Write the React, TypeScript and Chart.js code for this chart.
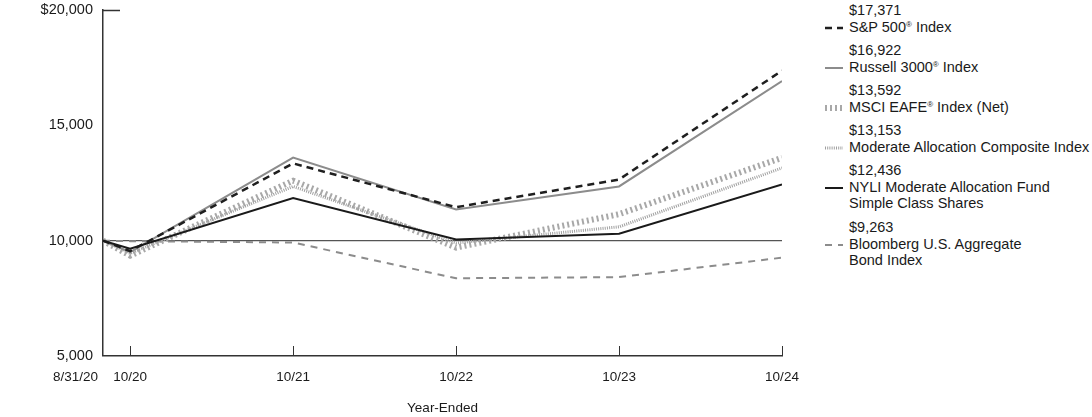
import React, { useEffect, useRef } from 'react';
import { Chart, registerables } from 'chart.js';

Chart.register(...registerables);

// Months elapsed since 8/31/20 for each observation
const monthsFromStart = [0, 2, 14, 26, 38, 50];
const xTickLabels = ['8/31/20', '10/20', '10/21', '10/22', '10/23', '10/24'];
const yTickValues = [5000, 10000, 15000, 20000];

const sp500 = [10000, 9550, 13350, 11450, 12650, 17371];
const russell3000 = [10000, 9500, 13600, 11350, 12350, 16922];
const msciEafe = [10000, 9350, 12600, 9700, 11150, 13592];
const moderateComposite = [10000, 9450, 12350, 9900, 10600, 13153];
const nyliFund = [10000, 9650, 11850, 10050, 10300, 12436];
const bloombergAgg = [10000, 9980, 9920, 8370, 8420, 9263];

const seriesNames = [
  'S&P 500® Index',
  'Russell 3000® Index',
  'MSCI EAFE® Index (Net)',
  'Moderate Allocation Composite Index',
  'NYLI Moderate Allocation Fund Simple Class Shares',
  'Bloomberg U.S. Aggregate Bond Index',
];
const seriesValues = [sp500, russell3000, msciEafe, moderateComposite, nyliFund, bloombergAgg];

const styles = [
  { color: '#1f1f1f', width: 2.5, dash: [7, 5], order: 1 },
  { color: '#8c8c8c', width: 2, dash: [], order: 2 },
  { color: '#a8a8a8', width: 6, dash: [2, 3], order: 4 },
  { color: '#a0a0a0', width: 3, dash: [1, 1.2], order: 3 },
  { color: '#1a1a1a', width: 2, dash: [], order: 0 },
  { color: '#8c8c8c', width: 2, dash: [7, 6], order: 5 },
];

const legendEntries = [
  { value: '$17,371', lines: ['S&P 500', '® Index'], top: 2 },
  { value: '$16,922', lines: ['Russell 3000', '® Index'], top: 42 },
  { value: '$13,592', lines: ['MSCI EAFE', '® Index (Net)'], top: 82 },
  { value: '$13,153', lines: ['Moderate Allocation Composite Index'], top: 122 },
  { value: '$12,436', lines: ['NYLI Moderate Allocation Fund', 'Simple Class Shares'], top: 162 },
  { value: '$9,263', lines: ['Bloomberg U.S. Aggregate', 'Bond Index'], top: 219 },
];

const FONT = '"Liberation Sans", Arial, Helvetica, sans-serif';
const TEXT = '#1a1a1a';

const axisDecor = {
  id: 'axisDecor',
  afterDraw(chart: any) {
    const { ctx, chartArea, scales } = chart;
    const x = scales.x;
    const y = scales.y;
    ctx.save();
    ctx.strokeStyle = '#333';
    ctx.lineWidth = 1;
    // inward tick marks on the x axis
    monthsFromStart.forEach((m, i) => {
      if (i === 0) return;
      const px = Math.round(x.getPixelForValue(m)) + 0.5;
      ctx.beginPath();
      ctx.moveTo(px, chartArea.bottom);
      ctx.lineTo(px, chartArea.bottom - 10);
      ctx.stroke();
    });
    // stub at the top value
    const ty = Math.round(y.getPixelForValue(20000)) + 0.5;
    ctx.lineWidth = 1.5;
    ctx.beginPath();
    ctx.moveTo(chartArea.left, ty);
    ctx.lineTo(chartArea.left + 17, ty);
    ctx.stroke();
    // first date label, right-aligned next to the axis
    ctx.fillStyle = TEXT;
    ctx.font = `13.5px ${FONT}`;
    ctx.textAlign = 'right';
    ctx.textBaseline = 'middle';
    ctx.fillText(xTickLabels[0], chartArea.left - 5, 377);
    ctx.restore();
  },
};

function LegendSample({ idx }: { idx: number }) {
  const s = styles[idx];
  return (
    <svg width={20} height={10} style={{ position: 'absolute', left: -24, top: 4 }}>
      <line
        x1={0}
        y1={5}
        x2={18}
        y2={5}
        stroke={s.color}
        strokeWidth={s.width}
        strokeDasharray={s.dash.length ? s.dash.join(' ') : undefined}
      />
    </svg>
  );
}

export default function App() {
  const canvasRef = useRef<HTMLCanvasElement | null>(null);

  useEffect(() => {
    if (!canvasRef.current) return;
    const datasets = seriesValues.map((vals, i) => ({
      label: seriesNames[i],
      data: vals.map((v, j) => ({ x: monthsFromStart[j], y: v })),
      borderColor: styles[i].color,
      backgroundColor: styles[i].color,
      borderWidth: styles[i].width,
      borderDash: styles[i].dash,
      borderCapStyle: 'butt' as const,
      borderJoinStyle: 'miter' as const,
      pointRadius: 0,
      tension: 0,
      fill: false,
      order: styles[i].order,
    }));

    const chart = new Chart(canvasRef.current, {
      type: 'line',
      data: { datasets },
      options: {
        animation: false,
        responsive: false,
        maintainAspectRatio: false,
        layout: { padding: { top: 10, right: 18, left: 0, bottom: 0 } },
        plugins: { legend: { display: false }, tooltip: { enabled: false } },
        scales: {
          x: {
            type: 'linear',
            min: 0,
            max: 50,
            afterBuildTicks: (s: any) => {
              s.ticks = monthsFromStart.map((v) => ({ value: v }));
            },
            afterFit: (s: any) => {
              s.height = 61;
              s.paddingLeft = 0;
              s.paddingRight = 0;
            },
            ticks: {
              autoSkip: false,
              maxRotation: 0,
              padding: 13,
              color: TEXT,
              font: { family: FONT, size: 13.5 },
              callback: (v: any) => {
                const i = monthsFromStart.indexOf(Number(v));
                return i <= 0 ? '' : xTickLabels[i];
              },
            },
            grid: { display: false, drawTicks: false },
            border: { display: true, color: '#333', width: 1.5 },
            title: {
              display: true,
              text: 'Year-Ended',
              color: TEXT,
              font: { family: FONT, size: 13.5 },
              padding: { top: 0, bottom: 0.5 },
            },
          },
          y: {
            min: 5000,
            max: 20000,
            afterBuildTicks: (s: any) => {
              s.ticks = yTickValues.map((v) => ({ value: v }));
            },
            afterFit: (s: any) => {
              s.width = 103;
              s.paddingTop = 0;
              s.paddingBottom = 0;
            },
            ticks: {
              padding: 10,
              color: TEXT,
              font: { family: FONT, size: 14.5 },
              callback: (v: any) => {
                const n = Number(v);
                const s = n.toLocaleString('en-US');
                return n === 20000 ? '$' + s : s;
              },
            },
            grid: {
              drawTicks: false,
              color: (c: any) => (c.tick && c.tick.value === 10000 ? '#555' : 'rgba(0,0,0,0)'),
              lineWidth: (c: any) => (c.tick && c.tick.value === 10000 ? 1.2 : 0),
            },
            border: { display: true, color: '#333', width: 1.5 },
          },
        },
      },
      plugins: [axisDecor],
    });
    return () => chart.destroy();
  }, []);

  return (
    <div
      style={{
        position: 'absolute',
        left: 0,
        top: 0,
        width: 1092,
        height: 417,
        overflow: 'hidden',
        background: '#fff',
        fontFamily: FONT,
        color: TEXT,
      }}
    >
      <canvas ref={canvasRef} width={800} height={417} style={{ position: 'absolute', left: 0, top: 0 }} />
      {legendEntries.map((e, i) => (
        <div
          key={i}
          style={{
            position: 'absolute',
            left: 849,
            top: e.top,
            fontSize: 14.5,
            lineHeight: '16.5px',
            whiteSpace: 'nowrap',
          }}
        >
          <div>{e.value}</div>
          {i <= 2 ? (
            <div style={{ position: 'relative' }}>
              <LegendSample idx={i} />
              {e.lines[0]}
              <sup style={{ fontSize: 8, verticalAlign: 'top', lineHeight: '12px' }}>®</sup>
              {e.lines[1].slice(1)}
            </div>
          ) : (
            e.lines.map((l, k) => (
              <div key={k} style={{ position: 'relative' }}>
                {k === 0 ? <LegendSample idx={i} /> : null}
                {l}
              </div>
            ))
          )}
        </div>
      ))}
    </div>
  );
}
